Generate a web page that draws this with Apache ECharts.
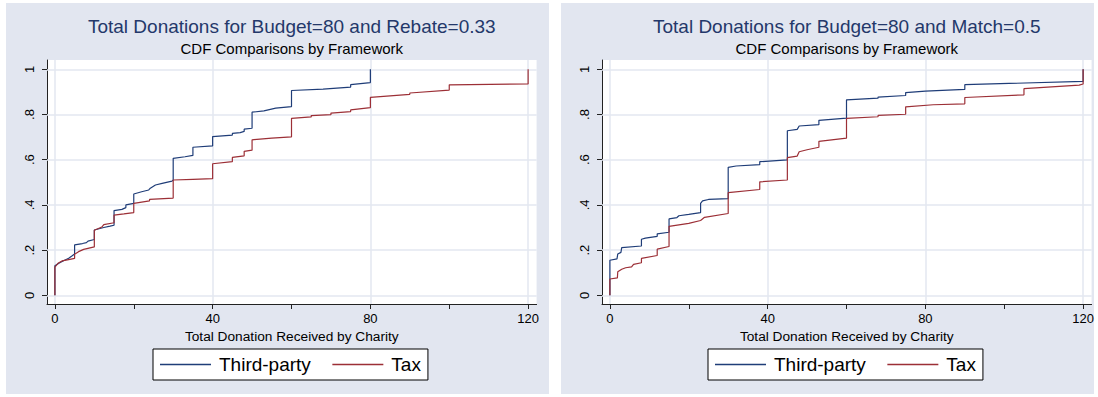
<!DOCTYPE html>
<html>
<head>
<meta charset="utf-8">
<script src="https://cdn.jsdelivr.net/npm/echarts@6/dist/echarts.min.js"></script>
<style>
  html, body { margin: 0; padding: 0; background: #ffffff; }
  #chart { width: 1098px; height: 397px; }
</style>
</head>
<body>
<div id="chart"></div>
<script>
// Empirical CDFs of total donation received by a charity: [donation, cumulative share].
// Budget=80, Rebate=0.33
const rebateThirdParty = [
  [0,0],[0,0.131],[1,0.142],[2.2,0.153],[3.5,0.164],[4.3,0.174],[5,0.183],[5,0.223],
  [7,0.229],[8,0.233],[8.4,0.24],[10,0.247],[10,0.289],[12.4,0.3],[14,0.306],[15,0.31],
  [15,0.375],[17,0.38],[18,0.388],[18,0.4],[20,0.407],[20,0.448],[22,0.458],[23.8,0.466],
  [24.2,0.474],[25.5,0.488],[27.2,0.495],[29.7,0.505],[30,0.51],[30,0.606],[33,0.613],
  [35,0.619],[35,0.655],[40,0.661],[40,0.702],[45,0.709],[45,0.716],[47,0.72],[48,0.725],
  [48,0.735],[50,0.739],[50,0.81],[53,0.816],[56,0.828],[60,0.835],[60,0.906],[68,0.912],
  [75,0.921],[75,0.932],[80,0.941],[80,1]
];
const rebateTax = [
  [0,0],[0,0.125],[0.9,0.143],[1.8,0.152],[3.5,0.158],[5,0.163],[5,0.182],[6,0.193],
  [7.3,0.203],[10,0.214],[10,0.288],[11.9,0.302],[12.4,0.313],[15,0.321],[15,0.355],
  [17.5,0.36],[20,0.366],[20,0.407],[24,0.418],[24,0.424],[30,0.43],[30,0.51],[35,0.513],
  [40,0.516],[40,0.582],[45,0.591],[45,0.61],[48,0.617],[48,0.637],[50,0.642],[50,0.688],
  [55,0.695],[60,0.701],[60,0.783],[65,0.789],[65,0.795],[70,0.799],[70,0.806],[75,0.813],
  [75,0.82],[80,0.83],[80,0.876],[90,0.889],[90,0.895],[100,0.908],[100,0.931],[120,0.935],
  [120,1]
];
// Budget=80, Match=0.5
const matchThirdParty = [
  [0,0],[0,0.155],[1.8,0.161],[2,0.183],[2.8,0.19],[3,0.211],[8,0.218],[8,0.248],[9,0.253],
  [12,0.261],[12,0.272],[15,0.279],[15,0.338],[17,0.344],[17.5,0.352],[20,0.358],[23,0.366],
  [23,0.407],[23.5,0.418],[25,0.424],[30,0.428],[30,0.566],[32,0.572],[38,0.578],[38,0.591],
  [45,0.599],[45,0.728],[47.5,0.734],[48,0.749],[53,0.755],[53,0.774],[60,0.784],[60,0.865],
  [68,0.872],[68,0.877],[75,0.884],[75,0.897],[80,0.903],[90,0.911],[90,0.932],[120,0.946],
  [120,1]
];
const matchTax = [
  [0,0],[0,0.072],[1.9,0.077],[2,0.104],[3,0.115],[4,0.122],[5.5,0.126],[6,0.137],[8,0.144],
  [8,0.163],[12,0.176],[12,0.204],[15,0.216],[15,0.305],[20,0.318],[23,0.331],[24,0.345],
  [30,0.362],[30,0.454],[38,0.468],[38,0.502],[45,0.51],[45,0.609],[47.5,0.616],[48,0.635],
  [50,0.644],[53,0.655],[53,0.681],[60,0.695],[60,0.783],[68,0.79],[68,0.796],[75,0.801],
  [75,0.834],[82,0.843],[90,0.847],[90,0.875],[105,0.887],[105,0.914],[119,0.93],[120,0.935],
  [120,1]
];

const panelTitles = ['Total Donations for Budget=80 and Rebate=0.33', 'Total Donations for Budget=80 and Match=0.5'];
const subTitle = 'CDF Comparisons by Framework';
const xAxisTitle = 'Total Donation Received by Charity';
const seriesNames = ['Third-party', 'Tax'];
const xTickValues = [0, 20, 40, 60, 80, 100, 120];
const xLabelValues = [0, 40, 80, 120];
const yTickValues = [0, 0.2, 0.4, 0.6, 0.8, 1];
const yTickLabels = ['0', '.2', '.4', '.6', '.8', '1'];

const panelData = [
  [rebateThirdParty, rebateTax],
  [matchThirdParty, matchTax]
];

// Layout and styling
const FONT = '"Liberation Sans", Arial, Helvetica, sans-serif';
const COLORS = ['#1f3d78', '#9c2f36'];
const PANEL_BG = '#e2e6f0';
const GRID_LINE = '#e3e7f0';
const panels = [
  { x: 6, y: 3, w: 543, h: 391, gridLeft: 47, legendLeft: 153 },
  { x: 561, y: 3, w: 533, h: 391, gridLeft: 602, legendLeft: 708 }
];
const GRID_TOP = 60, GRID_W = 489.6, GRID_H = 244;
const X_MIN = -2, X_MAX = 122.15, Y_MIN = -0.0385, Y_MAX = 1.041;

const graphicElements = [];
const grids = [], xAxes = [], yAxes = [], series = [], legends = [];

panels.forEach((p, i) => {
  const cx = p.gridLeft + GRID_W / 2;
  graphicElements.push(
    { type: 'rect', z: -20, silent: true, shape: { x: p.x, y: p.y, width: p.w, height: p.h }, style: { fill: PANEL_BG } },
    { type: 'rect', z: -19, silent: true, shape: { x: p.gridLeft, y: GRID_TOP, width: GRID_W, height: GRID_H }, style: { fill: '#ffffff' } },
    { type: 'text', z: 10, silent: true, x: cx, y: 26.5,
      style: { text: panelTitles[i], fill: '#24386a', fontSize: 19, fontFamily: FONT, align: 'center', verticalAlign: 'middle' } },
    { type: 'text', z: 10, silent: true, x: cx, y: 48,
      style: { text: subTitle, fill: '#000000', fontSize: 15, fontFamily: FONT, align: 'center', verticalAlign: 'middle' } }
  );

  grids.push({ left: p.gridLeft, top: GRID_TOP, width: GRID_W, height: GRID_H, show: false });

  xAxes.push({
    type: 'value', gridIndex: i, min: X_MIN, max: X_MAX,
    name: xAxisTitle, nameLocation: 'middle', nameGap: 20,
    nameTextStyle: { color: '#000', fontSize: 13.7, fontFamily: FONT },
    axisLine: { show: true, onZero: false, lineStyle: { color: '#222', width: 1 } },
    axisTick: { show: true, length: 5, customValues: xTickValues, lineStyle: { color: '#222', width: 1 } },
    axisLabel: { show: true, margin: 8, customValues: xLabelValues, color: '#000', fontSize: 13, fontFamily: FONT },
    splitLine: { show: false }
  });

  yAxes.push({
    type: 'value', gridIndex: i, min: Y_MIN, max: Y_MAX,
    axisLine: { show: true, onZero: false, lineStyle: { color: '#222', width: 1 } },
    axisTick: { show: true, length: 5, customValues: yTickValues, lineStyle: { color: '#222', width: 1 } },
    axisLabel: {
      show: true, rotate: 90, margin: 11, customValues: yTickValues,
      color: '#000', fontSize: 13, fontFamily: FONT,
      formatter: (v) => {
        const k = yTickValues.findIndex(t => Math.abs(t - v) < 1e-9);
        return k >= 0 ? yTickLabels[k] : '';
      }
    },
    splitLine: { show: false }
  });

  panelData[i].forEach((data, s) => {
    const ser = {
      name: seriesNames[s], type: 'line', xAxisIndex: i, yAxisIndex: i,
      data: data, symbol: 'none', showSymbol: false, z: 3,
      lineStyle: { color: COLORS[s], width: 1.2 },
      itemStyle: { color: COLORS[s] },
      emphasis: { disabled: true },
      animation: false
    };
    if (s === 0) {
      // grid lines of the plot region
      ser.markLine = {
        silent: true, z: 1, symbol: ['none', 'none'], animation: false,
        label: { show: false },
        emphasis: { disabled: true },
        lineStyle: { color: GRID_LINE, width: 1.5, type: 'solid' },
        data: xLabelValues.map(v => ({ xAxis: v })).concat(yTickValues.map(v => ({ yAxis: v })))
      };
    }
    series.push(ser);
  });

  legends.push({
    data: seriesNames, left: p.legendLeft, top: 349, orient: 'horizontal',
    backgroundColor: '#ffffff', borderColor: '#000000', borderWidth: 1, borderRadius: 0,
    padding: [6, 7, 6, 7], itemGap: 21.5, itemWidth: 51, itemHeight: 1.4, icon: 'rect',
    selectedMode: false,
    textStyle: { color: '#000', fontSize: 19, fontFamily: FONT, padding: [0, 0, 0, 3] }
  });
});

const chart = echarts.init(document.getElementById('chart'), null, { renderer: 'svg' });
chart.setOption({
  animation: false,
  backgroundColor: '#ffffff',
  graphic: { elements: graphicElements },
  grid: grids,
  xAxis: xAxes,
  yAxis: yAxes,
  legend: legends,
  series: series
});
</script>
</body>
</html>
